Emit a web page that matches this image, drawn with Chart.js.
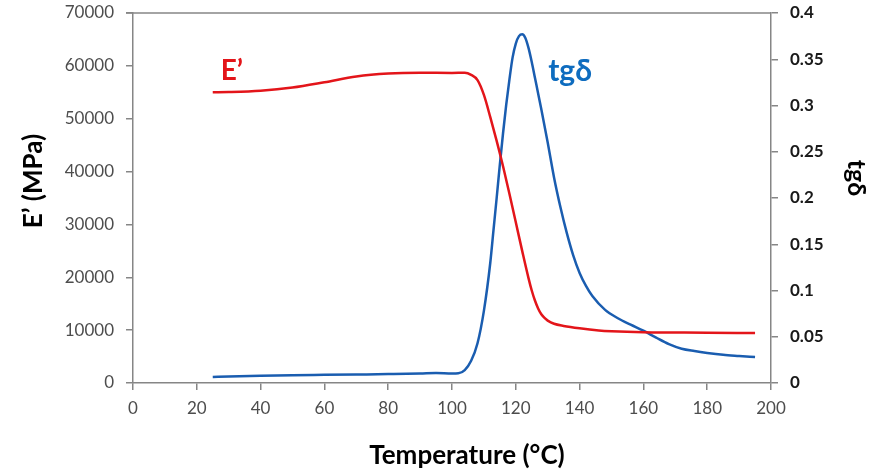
<!DOCTYPE html>
<html>
<head>
<meta charset="utf-8">
<script src="https://cdn.jsdelivr.net/npm/chart.js@4.4.1/dist/chart.umd.min.js"></script>
<style>
    html, body { margin: 0; padding: 0; background: #fff; }
    #wrap { width: 877px; height: 470px; }
</style>
</head>
<body>
<div id="wrap"><canvas id="dma-chart" width="877" height="470"></canvas></div>
<script>
// Storage modulus E' (MPa) against temperature
const modulusTemps = [25, 30, 40, 50, 60, 70, 80, 90, 100, 104, 106, 108, 110, 112, 114, 116, 118, 120, 122, 124,
    125, 126, 127, 128, 129, 130, 132, 135, 140, 146, 150, 160, 170, 180, 195];
const modulusValues = [55000, 55050, 55300, 55900, 56900, 58000, 58550, 58700, 58650, 58700, 58300, 57300, 54500,
    50300, 45800, 41000, 35800, 30400, 25000, 19800, 17500, 15600, 14100, 13000, 12300, 11800, 11200, 10800, 10350,
    9950, 9800, 9600, 9550, 9500, 9460];

// Loss factor tg delta against temperature
const tanDeltaTemps = [25, 30, 40, 50, 60, 70, 80, 90, 95, 100, 102, 104, 106, 108, 110, 112, 113, 114, 115, 116,
    117, 118, 119, 120, 121, 122, 123, 124, 125, 126, 127, 128, 130, 132, 134, 136, 138, 140, 142, 144, 148, 152,
    156, 160, 164, 168, 172, 176, 180, 185, 190, 195];
const tanDeltaValues = [0.0065, 0.007, 0.0078, 0.0084, 0.0088, 0.0092, 0.0096, 0.0102, 0.0108, 0.0104, 0.0106,
    0.014, 0.024, 0.043, 0.078, 0.13, 0.165, 0.2, 0.236, 0.27, 0.301, 0.328, 0.352, 0.367, 0.375, 0.377, 0.373,
    0.362, 0.347, 0.33, 0.313, 0.296, 0.26, 0.222, 0.19, 0.162, 0.138, 0.119, 0.105, 0.094, 0.079, 0.07, 0.063,
    0.0565, 0.049, 0.042, 0.037, 0.0345, 0.0325, 0.0305, 0.0292, 0.028];

// Axis ranges and tick steps
const tempRange = [0, 200, 20];
const modulusRange = [0, 70000, 10000];
const tanDeltaRange = [0, 0.4, 0.05];

const FONT = 'Lato, "Open Sans", sans-serif';
const AXIS_GREY = '#868686';
const RED = '#e3151a';
const BLUE = '#1a5db0';

function toPoints(xs, ys) {
    return xs.map((x, i) => ({ x: x, y: ys[i] }));
}

// fixed width for a vertical axis, without the label overhang padding
function fixWidth(width) {
    return scale => {
        scale.width = width;
        scale.paddingTop = 0;
        scale.paddingBottom = 0;
    };
}

// Titles, series labels and the top frame line
const chartText = {
    id: 'chartText',
    afterDraw(chart) {
        const { ctx, chartArea, scales } = chart;
        ctx.save();

        ctx.strokeStyle = AXIS_GREY;
        ctx.lineWidth = 1.5;
        ctx.beginPath();
        ctx.moveTo(chartArea.left - 7, chartArea.top);
        ctx.lineTo(chartArea.right, chartArea.top);
        ctx.stroke();

        ctx.textAlign = 'center';
        ctx.textBaseline = 'middle';
        ctx.fillStyle = '#000';

        ctx.font = 'bold 26px ' + FONT;
        ctx.fillText('Temperature (°C)', (chartArea.left + chartArea.right) / 2 + 15, 456);

        ctx.save();
        ctx.translate(34, chartArea.top + 168);
        ctx.rotate(-Math.PI / 2);
        ctx.font = 'bold 26px ' + FONT;
        ctx.fillText('E’ (MPa)', 0, 0);
        ctx.restore();

        ctx.save();
        ctx.translate(chartArea.right + 85, chartArea.top + 165);
        ctx.rotate(Math.PI / 2);
        ctx.font = 'bold 25px ' + FONT;
        ctx.fillText('tgδ', 0, 0);
        ctx.restore();

        ctx.font = 'bold 28px ' + FONT;
        ctx.fillStyle = RED;
        ctx.fillText('E’', scales.x.getPixelForValue(31), scales.y.getPixelForValue(59000));

        ctx.font = 'bold 30px ' + FONT;
        ctx.fillStyle = '#0e6cbf';
        ctx.fillText('tgδ', scales.x.getPixelForValue(137), scales.y1.getPixelForValue(0.337));

        ctx.restore();
    }
};

function createChart() {
    const ctx = document.getElementById('dma-chart').getContext('2d');
    new Chart(ctx, {
        type: 'line',
        data: {
            datasets: [
                {
                    label: 'E’',
                    data: toPoints(modulusTemps, modulusValues),
                    yAxisID: 'y',
                    borderColor: RED,
                    borderWidth: 2.5,
                    pointRadius: 0,
                    cubicInterpolationMode: 'monotone',
                    fill: false
                },
                {
                    label: 'tgδ',
                    data: toPoints(tanDeltaTemps, tanDeltaValues),
                    yAxisID: 'y1',
                    borderColor: BLUE,
                    borderWidth: 2.5,
                    pointRadius: 0,
                    cubicInterpolationMode: 'monotone',
                    fill: false
                }
            ]
        },
        options: {
            responsive: false,
            animation: false,
            devicePixelRatio: 1,
            layout: { padding: { top: 13, left: 0, right: 0, bottom: 0 } },
            plugins: {
                legend: { display: false },
                tooltip: { enabled: false }
            },
            scales: {
                x: {
                    type: 'linear',
                    min: tempRange[0],
                    max: tempRange[1],
                    ticks: {
                        stepSize: tempRange[2],
                        color: '#4d4d4d',
                        font: { family: FONT, size: 17 },
                        padding: 8,
                        maxRotation: 0
                    },
                    grid: { drawOnChartArea: false, tickLength: 7, color: AXIS_GREY, lineWidth: 1.5 },
                    border: { color: AXIS_GREY, width: 1.5 },
                    afterFit: scale => { scale.height = 87; }
                },
                y: {
                    position: 'left',
                    min: modulusRange[0],
                    max: modulusRange[1],
                    ticks: {
                        stepSize: modulusRange[2],
                        color: '#4d4d4d',
                        font: { family: FONT, size: 17 },
                        padding: 12,
                        callback: v => String(v)
                    },
                    grid: { drawOnChartArea: false, tickLength: 7, color: AXIS_GREY, lineWidth: 1.5 },
                    border: { color: AXIS_GREY, width: 1.5 },
                    afterFit: fixWidth(133)
                },
                y1: {
                    position: 'right',
                    min: tanDeltaRange[0],
                    max: tanDeltaRange[1],
                    ticks: {
                        stepSize: tanDeltaRange[2],
                        color: '#1a1a1a',
                        font: { family: FONT, size: 17, weight: 'bold' },
                        padding: 12,
                        callback: v => String(Number(v.toFixed(2)))
                    },
                    grid: { drawOnChartArea: false, tickLength: 7, color: AXIS_GREY, lineWidth: 1.5 },
                    border: { color: AXIS_GREY, width: 1.5 },
                    afterFit: fixWidth(106)
                }
            }
        },
        plugins: [chartText]
    });
}

document.addEventListener('DOMContentLoaded', createChart);
</script>
</body>
</html>
